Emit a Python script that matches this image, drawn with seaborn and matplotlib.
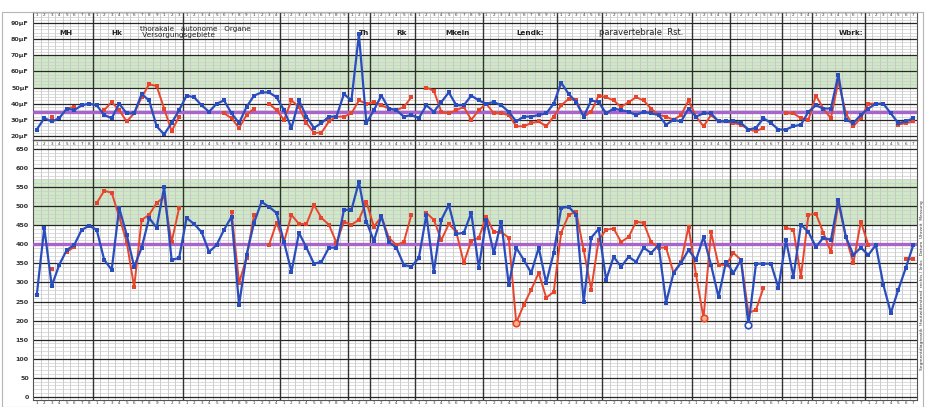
import numpy as np
import pandas as pd
import matplotlib
matplotlib.use("Agg")
import matplotlib.pyplot as plt
from matplotlib.patches import Rectangle
import seaborn as sns

nan = np.nan

# chart layout in columns (one column per measuring point)
N_COLS = 118
SECTION_EDGES = [8, 20, 33, 42, 45, 51, 60, 70, 76, 88, 93, 100, 104, 111]

# upper panel (capacity)
TOP_TICKS = [90, 80, 70, 60, 50, 40, 30, 20]
TOP_TICK_LABELS = ["90µF", "80µF", "70µF", "60µF", "50µF", "40µF", "30µF", "20µF"]
TOP_BAND = (50, 70)
TOP_REF = 35

# lower panel
BOT_TICKS = [650, 600, 550, 500, 450, 400, 350, 300, 250, 200, 150, 100, 50, 0]
BOT_TICK_LABELS = ["650", "600", "550", "500", "450", "400", "350", "300",
                   "250", "200", "150", "100", "50", "0"]
BOT_BAND = (450, 570)
BOT_REF = 400

REGION_LABELS = ["MH", "Hk", "thorakale   autonome   Organe\n Versorgungsgebiete",
                 "Th", "Rk", "Mkeln", "Lendk:", "paravertebrale  Rst.", "Wbrk:"]
REGION_COLS = [3.5, 10.5, 14.3, 43.5, 48.5, 55.0, 64.5, 75.5, 107.5]

top_blue = [24, 31, 29, 31, 37, 36, 39, 40, 39, 33,
            31, 40, 34, 34, 46, 42, 26, 21, 28, 36,
            45, 44, 39, 35, 40, 42, 34, 28, 38, 45,
            47, 47, 44, 36, 25, 42, 32, 25, 28, 32,
            32, 46, 42, 83, 28, 36, 45, 37, 36, 32,
            33, 31, 39, 35, 41, 47, 39, 39, 45, 42,
            40, 41, 39, 35, 29, 32, 32, 33, 34, 40,
            53, 46, 41, 32, 42, 41, 34, 37, 36, 35,
            33, 35, 34, 33, 27, 30, 29, 37, 32, 34,
            34, 29, 29, 29, 28, 24, 25, 31, 28, 24,
            24, 26, 27, 35, 39, 37, 37, 58, 30, 28,
            33, 37, 40, 40, 34, 28, 29, 31]

top_red = [nan, nan, 32, nan, 37, 38, nan, nan, nan, 36,
           41, 36, 29, 34, 44, 52, 51, 37, 23, 32,
           nan, nan, nan, nan, nan, 34, 31, 25, 33, 37,
           nan, 40, 36, 30, 42, 38, 28, 22, 22, 29,
           32, 32, 34, 42, 40, 41, 39, 37, 36, 38,
           44, nan, 50, 48, 35, 34, 36, 38, 30, 36,
           40, 34, 34, 33, 26, 26, 28, 29, 26, 32,
           39, 43, 42, 32, 35, 45, 44, 42, 38, 41,
           44, 42, 37, 33, 32, 30, 33, 42, 32, 26,
           33, 29, 29, 28, 27, 24, 23, 25, nan, nan,
           34, 34, 31, 30, 45, 37, 31, 54, 34, 26,
           31, 40, 40, nan, nan, 27, 28, 29]

bot_blue = [267, 443, 291, 346, 385, 398, 438, 448, 438, 359,
            333, 495, 425, 341, 391, 469, 443, 550, 359, 364,
            469, 453, 432, 380, 398, 438, 472, 241, 372, 456,
            511, 498, 482, 406, 328, 430, 391, 349, 354, 391,
            391, 490, 490, 563, 459, 409, 474, 406, 391, 346,
            341, 364, 477, 328, 464, 503, 427, 430, 482, 338,
            464, 377, 459, 294, 391, 359, 325, 391, 299, 377,
            495, 498, 477, 249, 417, 440, 307, 367, 341, 367,
            354, 391, 377, 398, 247, 325, 351, 385, 359, 419,
            346, 262, 354, 325, 359, 189, 349, 349, 349, 286,
            411, 315, 451, 432, 393, 417, 411, 516, 419, 372,
            391, 372, 398, 294, 220, 281, 338, 398]

bot_red = [nan, nan, 336, nan, 380, 393, nan, nan, 508, 540,
           535, 472, 406, 288, 464, 477, 508, 524, 406, 495,
           nan, nan, nan, nan, nan, nan, 485, 299, 364, 477,
           nan, 398, 456, 406, 477, 453, 453, 503, 469, 451,
           404, 459, 451, 464, 511, 446, 472, 417, 398, 406,
           477, nan, 482, 464, 411, 453, 432, 351, 409, 417,
           472, 432, 432, 417, 194, 241, 281, 325, 260, 275,
           430, 477, 485, 385, 281, 411, 438, 441, 406, 419,
           459, 456, 406, 391, 391, 325, 354, 446, 320, 207,
           432, 346, 346, 377, 359, 220, 228, 286, nan, nan,
           443, 438, 315, 477, 480, 430, 380, 508, 419, 351,
           459, 398, nan, nan, nan, nan, 362, 362]

bot_red_circles = [64, 89]
bot_blue_circles = [95]

SIDE_NOTE = "Segmentdiagnostik  Hautwiderstand  rechts / links   Datum  Uhrzeit  Messung"

BLUE = "#2a4dbd"
RED = "#e8452c"
PURPLE = "#a964cc"
GREEN = "#cfe8c6"


def column_labels():
    edges = [0] + SECTION_EDGES + [N_COLS]
    labels = []
    for a, b in zip(edges[:-1], edges[1:]):
        labels += [str((j % 9) + 1) for j in range(b - a)]
    return labels


def segments(values):
    df = pd.DataFrame({"col": np.arange(len(values)) + 0.5, "val": values})
    df["seg"] = df["val"].isna().cumsum()
    return df.dropna()


def draw_series(ax, values, color, lw, z):
    df = segments(values)
    sns.lineplot(data=df, x="col", y="val", units="seg", estimator=None,
                 color=color, linewidth=lw, marker="s", markersize=2.3,
                 markeredgewidth=0, ax=ax, zorder=z, legend=False)


def draw_grid(ax, ylo, yhi, minor_step, major_ticks):
    ax.vlines(np.arange(N_COLS + 1), ylo, yhi, color="#c4c4c4", lw=0.6, zorder=1)
    ax.vlines(SECTION_EDGES, ylo, yhi, color="#333333", lw=1.0, zorder=2)
    minor = np.arange(np.ceil(ylo / minor_step) * minor_step, yhi, minor_step)
    ax.hlines(minor, 0, N_COLS, color="#cdcdcd", lw=0.5, zorder=1)
    ax.hlines(major_ticks, 0, N_COLS, color="#262626", lw=0.9, zorder=2)


def style_axis(ax, ylo, yhi, ticks, labels):
    ax.set_xlim(0, N_COLS)
    ax.set_ylim(ylo, yhi)
    ax.set_yticks(ticks)
    ax.set_yticklabels(labels, fontsize=4.6, fontweight="bold", color="#333333")
    ax.tick_params(axis="y", length=0, pad=3)
    ax.set_xlabel("")
    ax.set_ylabel("")
    for spine in ax.spines.values():
        spine.set_color("#555555")
        spine.set_linewidth(0.8)


def header_row(ax, yval, labels):
    for j, lab in enumerate(labels):
        ax.text(j + 0.5, yval, lab, fontsize=3.0, ha="center", va="center",
                color="#333333", zorder=6)


def main():
    sns.set_theme(style="white")
    plt.rcParams["font.family"] = ["DejaVu Sans"]

    labels = column_labels()

    fig = plt.figure(figsize=(9.25, 4.07), dpi=100)
    ax_top = fig.add_axes([0.0357, 0.656, 0.9557, 0.3145])
    ax_bot = fig.add_axes([0.0357, 0.0172, 0.9557, 0.6388])

    # ---- upper panel
    ylo, yhi = 17.5, 96.8
    ax_top.axhspan(*TOP_BAND, color=GREEN, zorder=0.5, lw=0)
    draw_grid(ax_top, ylo, yhi, 2, TOP_TICKS)
    ax_top.axhline(TOP_REF, color=PURPLE, lw=2.4, zorder=3)
    draw_series(ax_top, top_red, RED, 1.4, 4)
    draw_series(ax_top, top_blue, BLUE, 1.6, 5)
    style_axis(ax_top, ylo, yhi, TOP_TICKS, TOP_TICK_LABELS)
    ax_top.set_xticks([])
    header_row(ax_top, 94.8, labels)
    for lab, c in zip(REGION_LABELS, REGION_COLS):
        if "\n" in lab:
            ax_top.text(c, 84.5, lab, fontsize=5.2, ha="left", va="center",
                        color="#222222", linespacing=1.0, zorder=6)
        else:
            fs = 6.0 if len(lab) > 10 else 5.2
            ax_top.text(c, 84.0, lab, fontsize=fs, ha="left", va="center",
                        color="#222222", fontweight="bold" if len(lab) < 10 else "normal",
                        zorder=6)

    # ---- lower panel
    ylo, yhi = -8, 673
    ax_bot.axhspan(*BOT_BAND, color=GREEN, zorder=0.5, lw=0)
    draw_grid(ax_bot, ylo, yhi, 10, BOT_TICKS)
    ax_bot.axhline(BOT_REF, color=PURPLE, lw=2.4, zorder=3)
    draw_series(ax_bot, bot_red, RED, 1.4, 4)
    draw_series(ax_bot, bot_blue, BLUE, 1.6, 5)
    cols = np.arange(N_COLS) + 0.5
    ax_bot.scatter(cols[bot_red_circles], np.array(bot_red, dtype=float)[bot_red_circles],
                   s=22, facecolor="#f6b48a", edgecolor=RED, linewidth=1.2, zorder=6)
    ax_bot.scatter(cols[bot_blue_circles], np.array(bot_blue, dtype=float)[bot_blue_circles],
                   s=22, facecolor="white", edgecolor=BLUE, linewidth=1.2, zorder=6)
    style_axis(ax_bot, ylo, yhi, BOT_TICKS, BOT_TICK_LABELS)
    ax_bot.set_xticks(cols)
    ax_bot.set_xticklabels(labels, fontsize=3.0, color="#333333")
    ax_bot.tick_params(axis="x", length=0, pad=1)
    header_row(ax_bot, 662, labels)

    fig.text(0.9965, 0.30, SIDE_NOTE, rotation=90, fontsize=3.2,
             ha="center", va="center", color="#333333")
    fig.patches.append(Rectangle((0.002, 0.0), 0.996, 0.971, transform=fig.transFigure,
                                 fill=False, edgecolor="#b5b5b5", lw=0.8))

    fig.savefig("out.png", dpi=100)
    plt.close(fig)


if __name__ == "__main__":
    main()
